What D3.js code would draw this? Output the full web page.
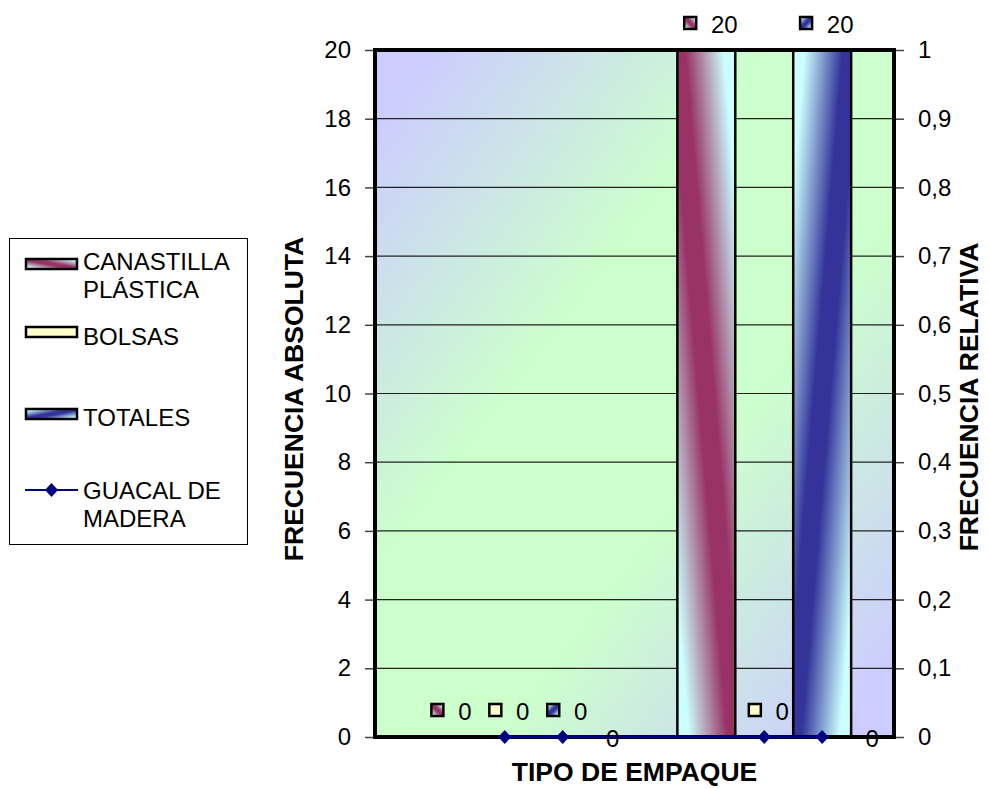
<!DOCTYPE html>
<html>
<head>
<meta charset="utf-8">
<script src="https://cdn.jsdelivr.net/npm/d3@7"></script>
<style>
    body { margin: 0; background: #fff; }
    text { font-family: "Liberation Sans", Arial, sans-serif; fill: #000; }
</style>
</head>
<body>
<div id="chart"></div>
<script>
// data
var categories = ["1", "2"];
var seriesNames = ["CANASTILLA PLÁSTICA", "BOLSAS", "TOTALES"];
var canastilla = [0, 20];
var bolsas = [0, 0];
var totales = [0, 20];
// line series, two points per category (on the BOLSAS and TOTALES slots)
var guacal = [0, 0, 0, 0];
var leftTicks = [0, 2, 4, 6, 8, 10, 12, 14, 16, 18, 20];
var rightTicks = [0, 0.1, 0.2, 0.3, 0.4, 0.5, 0.6, 0.7, 0.8, 0.9, 1];

var seriesValues = [canastilla, bolsas, totales];

// set up layout
var margin = { top: 50, right: 95, bottom: 51, left: 375 },
    width = 989 - margin.left - margin.right,
    height = 788 - margin.top - margin.bottom;

var svg = d3.select("#chart").append("svg")
    .attr("width", 989)
    .attr("height", 788);

var defs = svg.append("defs");

function gradient(id, x1, y1, x2, y2, stops) {
    var g = defs.append("linearGradient")
        .attr("id", id)
        .attr("x1", x1).attr("y1", y1)
        .attr("x2", x2).attr("y2", y2);
    stops.forEach(function (s) {
        g.append("stop").attr("offset", s[0]).attr("stop-color", s[1]);
    });
}

gradient("bgGrad", 0, 0, 1, 1, [[0, "#ccccff"], [0.05, "#ccccff"], [0.38, "#ccffcc"], [0.62, "#ccffcc"], [0.95, "#ccccff"], [1, "#ccccff"]]);
gradient("canGrad", 0, 1, 1, 0, [[0, "#ccffff"], [0.1, "#ccffff"], [0.43, "#993366"], [0.57, "#993366"], [0.9, "#ccffff"], [1, "#ccffff"]]);
gradient("totGrad", 0, 0, 1, 1, [[0, "#ccffff"], [0.1, "#ccffff"], [0.43, "#333399"], [0.57, "#333399"], [0.9, "#ccffff"], [1, "#ccffff"]]);

var fills = ["url(#canGrad)", "#ffffcc", "url(#totGrad)"];

var plot = svg.append("g")
    .attr("transform", "translate(" + margin.left + "," + margin.top + ")");

// scales
var x0 = d3.scaleBand().domain(categories).range([0, width]);
var x1 = d3.scaleBand().domain(seriesNames).range([0, x0.bandwidth()]).paddingOuter(0.74);
var y = d3.scaleLinear().domain([0, 20]).range([height, 0]);
var y2 = d3.scaleLinear().domain([0, 1]).range([height, 0]);

// background
plot.append("rect")
    .attr("width", width)
    .attr("height", height)
    .style("fill", "url(#bgGrad)");

// gridlines
plot.selectAll(".grid")
    .data(leftTicks.slice(1, -1))
    .enter().append("line")
    .attr("x1", 0).attr("x2", width)
    .attr("y1", function (d) { return y(d); })
    .attr("y2", function (d) { return y(d); })
    .style("stroke", "#222")
    .style("stroke-width", 1.2);

// bars
var barData = [];
categories.forEach(function (c, i) {
    seriesNames.forEach(function (s, j) {
        barData.push({ cat: c, key: s, value: seriesValues[j][i], fill: fills[j] });
    });
});

plot.selectAll(".bar")
    .data(barData.filter(function (d) { return d.value > 0; }))
    .enter().append("rect")
    .attr("class", "bar")
    .attr("x", function (d) { return x0(d.cat) + x1(d.key); })
    .attr("y", function (d) { return y(d.value); })
    .attr("width", x1.bandwidth())
    .attr("height", function (d) { return height - y(d.value); })
    .style("fill", function (d) { return d.fill; })
    .style("stroke", "#000")
    .style("stroke-width", 2.5);

// plot border
plot.append("rect")
    .attr("width", width)
    .attr("height", height)
    .style("fill", "none")
    .style("stroke", "#000")
    .style("stroke-width", 4);

// left axis
var yAxis = d3.axisLeft(y).tickValues(leftTicks).tickSize(8).tickPadding(15);
var gy = plot.append("g").call(yAxis);
gy.select(".domain").remove();
gy.selectAll("line").attr("transform", "translate(-2,0)").style("stroke", "#444").style("stroke-width", 1.5);
gy.selectAll("text").style("font-size", "24px").attr("x", -24);

// right axis
var yAxis2 = d3.axisRight(y2).tickValues(rightTicks).tickSize(8)
    .tickFormat(function (d) { return String(d).replace(".", ","); });
var gy2 = plot.append("g").attr("transform", "translate(" + width + ",0)").call(yAxis2);
gy2.select(".domain").remove();
gy2.selectAll("line").attr("transform", "translate(2,0)").style("stroke", "#444").style("stroke-width", 1.5);
gy2.selectAll("text").style("font-size", "24px").attr("x", 24);

// line series
var diamond = {
    draw: function (context, size) {
        var r = Math.sqrt(size / 2);
        context.moveTo(0, -r);
        context.lineTo(r * 0.93, 0);
        context.lineTo(0, r);
        context.lineTo(-r * 0.93, 0);
        context.closePath();
    }
};

var lineData = guacal.map(function (v, i) {
    var cat = categories[Math.floor(i / 2)],
        key = seriesNames[1 + i % 2];
    return { x: x0(cat) + x1(key) + x1.bandwidth() / 2, v: v, i: i };
});

var line = d3.line()
    .x(function (d) { return d.x; })
    .y(function (d) { return y2(d.v); });

plot.append("path")
    .datum(lineData)
    .attr("d", line)
    .style("fill", "none")
    .style("stroke", "#000080")
    .style("stroke-width", 3);

plot.selectAll(".pt")
    .data(lineData)
    .enter().append("path")
    .attr("transform", function (d) { return "translate(" + d.x + "," + y2(d.v) + ")"; })
    .attr("d", d3.symbol().type(diamond).size(98))
    .style("fill", "#000080");

plot.selectAll(".ptlabel")
    .data(lineData.filter(function (d) { return d.i % 2 == 1; }))
    .enter().append("text")
    .attr("x", function (d) { return d.x + 50; })
    .attr("y", function (d) { return y2(d.v) + 10; })
    .style("text-anchor", "middle")
    .style("font-size", "24px")
    .text(function (d) { return d.v; });

// bar data labels with legend key
plot.selectAll(".blabel")
    .data(barData)
    .enter().append("g")
    .each(function (d) {
        var g = d3.select(this),
            cx = x0(d.cat) + x1(d.key) + x1.bandwidth() / 2,
            top = y(d.value);
        var t = g.append("text")
            .style("font-size", "24px")
            .text(d.value);
        var w = t.node().getComputedTextLength(),
            start = cx + 4 - (15 + 13 + w) / 2;
        g.append("rect")
            .attr("x", start + 1.25)
            .attr("y", top - 27 - 6)
            .attr("width", 12)
            .attr("height", 12)
            .style("fill", d.fill)
            .style("stroke", "#000")
            .style("stroke-width", 2.5);
        t.attr("x", start + 28).attr("y", top - 17);
    });

// axis titles
svg.append("text")
    .attr("transform", "translate(303,399) rotate(-90)")
    .style("text-anchor", "middle")
    .style("font-size", "26.5px")
    .style("font-weight", "bold")
    .text("FRECUENCIA ABSOLUTA");

svg.append("text")
    .attr("transform", "translate(978,397) rotate(-90)")
    .style("text-anchor", "middle")
    .style("font-size", "26.5px")
    .style("font-weight", "bold")
    .text("FRECUENCIA RELATIVA");

svg.append("text")
    .attr("x", margin.left + width / 2)
    .attr("y", 781)
    .style("text-anchor", "middle")
    .style("font-size", "26.5px")
    .style("font-weight", "bold")
    .text("TIPO DE EMPAQUE");

// legend
var legend = svg.append("g");

legend.append("rect")
    .attr("x", 9.5).attr("y", 238.5)
    .attr("width", 238).attr("height", 306)
    .style("fill", "#fff")
    .style("stroke", "#000")
    .style("stroke-width", 1);

var legendItems = [
    { lines: ["CANASTILLA", "PLÁSTICA"], base: 270, key: 259, fill: fills[0] },
    { lines: ["BOLSAS"], base: 345, key: 327, fill: fills[1] },
    { lines: ["TOTALES"], base: 426, key: 409, fill: fills[2] },
    { lines: ["GUACAL DE", "MADERA"], base: 499, key: 490, fill: null }
];

legendItems.forEach(function (d) {
    if (d.fill) {
        legend.append("rect")
            .attr("x", 26).attr("y", d.key)
            .attr("width", 51).attr("height", 10)
            .style("fill", d.fill)
            .style("stroke", "#000")
            .style("stroke-width", 2.5);
    } else {
        legend.append("line")
            .attr("x1", 25).attr("x2", 78)
            .attr("y1", d.key).attr("y2", d.key)
            .style("stroke", "#000080")
            .style("stroke-width", 2);
        legend.append("path")
            .attr("transform", "translate(51.5," + d.key + ")")
            .attr("d", d3.symbol().type(diamond).size(98))
            .style("fill", "#000080");
    }
    d.lines.forEach(function (l, k) {
        legend.append("text")
            .attr("x", 83)
            .attr("y", d.base + k * 27.5)
            .style("font-size", "24px")
            .text(l);
    });
});
</script>
</body>
</html>
